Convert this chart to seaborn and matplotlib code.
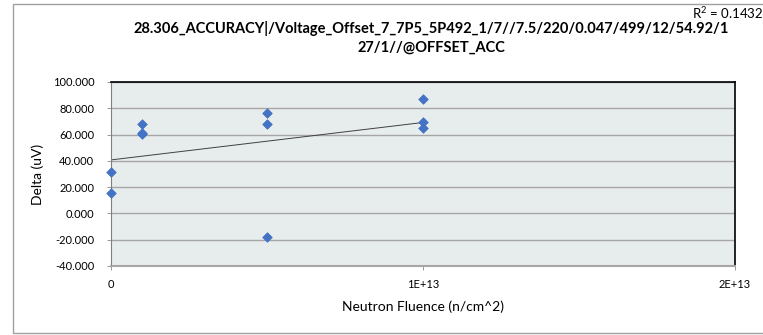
import numpy as np
import pandas as pd
import matplotlib
matplotlib.use("Agg")
import matplotlib.pyplot as plt
import seaborn as sns
from matplotlib.patches import Rectangle
from matplotlib.ticker import FixedLocator, FixedFormatter

# data
fluence = [0, 0, 1e12, 1e12, 1e12, 5e12, 5e12, 5e12, 1e13, 1e13, 1e13]
delta = [31.9, 15.9, 67.8, 61.5, 60.3, 76.1, 67.8, -17.8, 86.9, 69.3, 64.9]
x_ticks = [0, 1e13, 2e13]
x_tick_labels = ["0", "1E+13", "2E+13"]
y_ticks = [-40, -20, 0, 20, 40, 60, 80, 100]
r2_text = "R$^2$ = 0.1432"
title = ("28.306_ACCURACY|/Voltage_Offset_7_7P5_5P492_1/7//7.5/220/0.047/499/12/54.92/1\n"
         "27/1//@OFFSET_ACC")

df = pd.DataFrame({"fluence": fluence, "delta": delta})

sns.set_theme(style="white")
plt.rcParams["font.family"] = ["Lato", "DejaVu Sans"]
plt.rcParams["text.color"] = "black"
plt.rcParams["axes.labelcolor"] = "black"
plt.rcParams["xtick.color"] = "black"
plt.rcParams["ytick.color"] = "black"
plt.rcParams["mathtext.fontset"] = "custom"
plt.rcParams["mathtext.rm"] = "Lato"

fig = plt.figure(figsize=(7.63, 3.35), dpi=100)
ax = fig.add_axes([111 / 763, 1 - 266 / 335, (735 - 111) / 763, (266 - 82) / 335])
ax.set_facecolor("#E7ECEC")

# linear trendline
slope, intercept = np.polyfit(df["fluence"], df["delta"], 1)
xs = np.array([0, 1e13])
ax.plot(xs, slope * xs + intercept, color="#404040", lw=0.7, zorder=2)

sns.scatterplot(data=df, x="fluence", y="delta", marker="D", s=24,
                color="#4472C4", edgecolor="#4472C4", linewidth=0.5, ax=ax,
                zorder=3, clip_on=False)

ax.set_xlim(0, 2e13)
ax.set_ylim(-40, 100)
ax.xaxis.set_major_locator(FixedLocator(x_ticks))
ax.xaxis.set_major_formatter(FixedFormatter(x_tick_labels))
ax.set_yticks(y_ticks)
ax.set_yticklabels([f"{v:.3f}" for v in y_ticks])
ax.yaxis.grid(True, color="#A6A6A6", lw=1.0)
ax.set_axisbelow(True)
ax.tick_params(axis="both", labelsize=8, length=3, width=0.6, color="#888888",
               direction="out", left=True, bottom=True, pad=6)
ax.tick_params(axis="y", pad=9)
ax.tick_params(axis="both", labelcolor="black")

for side in ["top", "right"]:
    ax.spines[side].set_color("black")
    ax.spines[side].set_linewidth(1.2)
ax.spines["left"].set_color("#7F7F7F")
ax.spines["bottom"].set_color("#A6A6A6")
ax.spines["left"].set_linewidth(0.8)
ax.spines["bottom"].set_linewidth(1.5)

ax.set_xlabel("Neutron Fluence (n/cm^2)", fontsize=10, labelpad=8)
ax.set_ylabel("Delta (uV)", fontsize=10, labelpad=6)

fig.text(431 / 763, 1 - 38 / 335, title, ha="center", va="center",
         fontsize=10.5, fontweight="bold", linespacing=1.4)
fig.text(763 / 763, 1 - 13 / 335, r2_text, ha="right", va="center", fontsize=9.5)

# outer chart border
fig.patches.append(Rectangle((12.5 / 763, 2 / 335), 1.0, 329 / 335,
                             transform=fig.transFigure, fill=False,
                             edgecolor="#A0A0A0", lw=1.0, clip_on=False))

fig.savefig("out.png", dpi=100)
